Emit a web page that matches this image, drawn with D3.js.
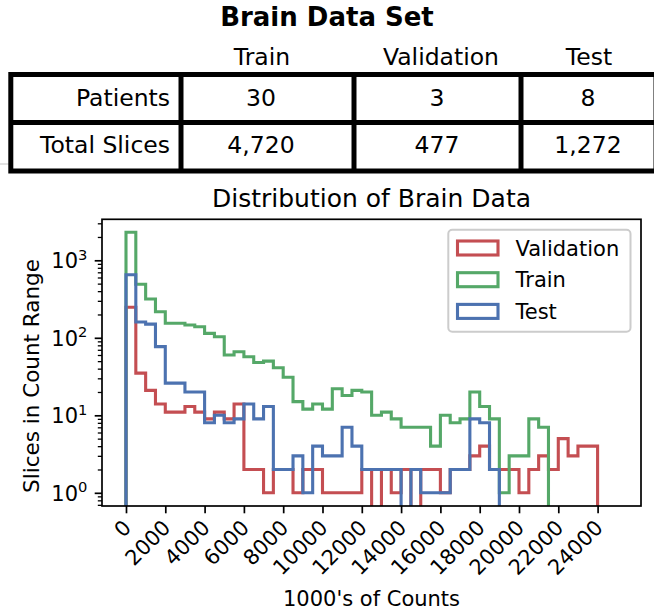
<!DOCTYPE html>
<html>
<head>
<meta charset="utf-8">
<script src="https://cdn.jsdelivr.net/npm/d3@7"></script>
<style>
  body { margin: 0; background: #fff; }
  text { font-family: "DejaVu Sans", sans-serif; fill: #000; }
</style>
</head>
<body>
<div id="chart"></div>
<script>
// Table data
var tableTitle = "Brain Data Set";
var tableCols = ["Train", "Validation", "Test"];
var tableRows = ["Patients", "Total Slices"];
var patients = [30, 3, 8];
var totalSlices = [4720, 477, 1272];

// Histogram data (bins of 500 counts starting at 0)
var binSize = 500;
var valCounts = [248, 35, 21, 14, 11, 11, 13, 11, 9, 11, 9, 14, 2, 2, 1, 2, 2, 1, 2, 2,
  1, 1, 1, 1, 2, 0, 2, 1, 2, 0, 2, 2, 1, 2, 2, 3, 4, 2, 2, 2, 1, 2, 3, 2, 5, 3, 4, 4];
var trainCounts = [2300, 490, 317, 217, 154, 154, 146, 139, 114, 103, 60, 66, 57, 48, 50, 41,
  31, 15, 12, 14, 12, 22, 18, 21, 20, 10, 11, 9, 7, 7, 7, 4, 10, 8, 9, 20, 13, 9, 1, 3, 3, 9, 7];
var testCounts = [650, 160, 150, 77, 26, 26, 20, 20, 8, 10, 8, 9, 14, 9, 13, 2, 2, 3, 1, 4,
  3, 3, 7, 4, 2, 2, 2, 2, 0, 2, 1, 1, 1, 2, 2, 9, 8, 2];
var seriesNames = ["Validation", "Train", "Test"];
var seriesColors = ["#C44E52", "#55A868", "#4C72B0"];

// Axis ticks and limits
var xTicks = [0, 2000, 4000, 6000, 8000, 10000, 12000, 14000, 16000, 18000, 20000, 22000, 24000];
var yTicks = [1, 10, 100, 1000];
var yTickExp = ["0", "1", "2", "3"];
var xLimits = [-1221, 26209];
var yLimits = [0.676, 3380];

var svgWidth = 654;
var svgHeight = 614;
var plot = {left: 102, right: 641, top: 219.3, bottom: 506};

var svg = d3.select("#chart")
  .append("svg")
  .attr("width", svgWidth)
  .attr("height", svgHeight);

// ===== Table =====
svg.append("text")
  .attr("x", 327)
  .attr("y", 26)
  .attr("text-anchor", "middle")
  .attr("font-size", "26px")
  .attr("font-weight", "bold")
  .text(tableTitle);

// thin grey separator behind the table
svg.append("line")
  .attr("x1", 0).attr("x2", svgWidth)
  .attr("y1", 164).attr("y2", 164)
  .attr("stroke", "#c4c4c4")
  .attr("stroke-width", 1);

var colLines = [10.8, 181, 354, 521, 656];
var rowLines = [74.5, 122.5, 171];
var headCenters = [262, 441, 589];
var valCenters = [261, 437, 588];
var rowBase = [106, 153.3];

svg.append("rect")
  .attr("x", colLines[0]).attr("y", rowLines[0])
  .attr("width", colLines[4] - colLines[0])
  .attr("height", rowLines[2] - rowLines[0])
  .attr("fill", "#fff")
  .attr("stroke", "#000")
  .attr("stroke-width", 5);

svg.selectAll(".vline")
  .data(colLines.slice(1, 4))
  .enter()
  .append("line")
  .attr("x1", d => d).attr("x2", d => d)
  .attr("y1", rowLines[0]).attr("y2", rowLines[2])
  .attr("stroke", "#000")
  .attr("stroke-width", 5);

svg.append("line")
  .attr("x1", colLines[0]).attr("x2", colLines[4])
  .attr("y1", rowLines[1]).attr("y2", rowLines[1])
  .attr("stroke", "#000")
  .attr("stroke-width", 5);

svg.selectAll(".colhead")
  .data(tableCols)
  .enter()
  .append("text")
  .attr("x", (d, i) => headCenters[i])
  .attr("y", 65)
  .attr("text-anchor", "middle")
  .attr("font-size", "23.5px")
  .text(d => d);

var fmt = d3.format(",");
var rowValues = [patients, totalSlices];

tableRows.forEach(function(label, r) {
  svg.append("text")
    .attr("x", 170)
    .attr("y", rowBase[r])
    .attr("text-anchor", "end")
    .attr("font-size", "23.5px")
    .text(label);

  svg.selectAll(".cell" + r)
    .data(rowValues[r])
    .enter()
    .append("text")
    .attr("x", (d, i) => valCenters[i])
    .attr("y", rowBase[r])
    .attr("text-anchor", "middle")
    .attr("font-size", "23.5px")
    .text(d => fmt(d));
});

// ===== Histogram =====
var xScale = d3.scaleLinear()
  .domain(xLimits)
  .range([plot.left, plot.right]);

var yScale = d3.scaleLog()
  .domain(yLimits)
  .range([plot.bottom, plot.top]);

svg.append("defs").append("clipPath")
  .attr("id", "plotclip")
  .append("rect")
  .attr("x", plot.left).attr("y", plot.top)
  .attr("width", plot.right - plot.left)
  .attr("height", plot.bottom - plot.top);

var floorY = plot.bottom + 20;

function stepPoints(counts) {
  var pts = [[xScale(0), floorY]];
  counts.forEach(function(c, i) {
    var yy = c > 0 ? yScale(c) : floorY;
    pts.push([xScale(i * binSize), yy]);
    pts.push([xScale((i + 1) * binSize), yy]);
  });
  pts.push([xScale(counts.length * binSize), floorY]);
  return pts;
}

var line = d3.line();
var allCounts = [valCounts, trainCounts, testCounts];

svg.append("g")
  .attr("clip-path", "url(#plotclip)")
  .selectAll("path")
  .data(allCounts)
  .enter()
  .append("path")
  .attr("d", d => line(stepPoints(d)))
  .attr("fill", "none")
  .attr("stroke", (d, i) => seriesColors[i])
  .attr("stroke-width", 3.1)
  .attr("stroke-linejoin", "miter");

// x axis
var xAxis = svg.append("g")
  .attr("transform", `translate(0, ${plot.bottom})`)
  .call(d3.axisBottom(xScale).tickValues(xTicks).tickSize(7.3).tickSizeOuter(0).tickFormat(d3.format("d")));
xAxis.select(".domain").remove();
xAxis.selectAll(".tick line").attr("stroke", "#000").attr("stroke-width", 1.7);
xAxis.selectAll(".tick text")
  .attr("x", 0).attr("y", 0).attr("dy", 0)
  .attr("transform", "translate(6, 23) rotate(-45)")
  .attr("text-anchor", "end")
  .attr("font-family", "DejaVu Sans")
  .attr("font-size", "21px")
  .attr("fill", "#000");

// y axis (major + minor ticks)
var minorTicks = [];
[0.1, 1, 10, 100, 1000].forEach(function(dec) {
  for (var m = 2; m <= 9; m++) {
    var v = m * dec;
    if (v >= yLimits[0] && v <= yLimits[1]) minorTicks.push(v);
  }
});

var yMinor = svg.append("g")
  .attr("transform", `translate(${plot.left}, 0)`)
  .call(d3.axisLeft(yScale).tickValues(minorTicks).tickSize(4.2).tickSizeOuter(0).tickFormat(""));
yMinor.select(".domain").remove();
yMinor.selectAll(".tick line").attr("stroke", "#000").attr("stroke-width", 1.3);

var yMajor = svg.append("g")
  .attr("transform", `translate(${plot.left}, 0)`)
  .call(d3.axisLeft(yScale).tickValues(yTicks).tickSize(7.3).tickSizeOuter(0).tickFormat(""));
yMajor.select(".domain").remove();
yMajor.selectAll(".tick line").attr("stroke", "#000").attr("stroke-width", 1.7);
yMajor.selectAll(".tick text").remove();

var yLab = yMajor.selectAll(".tick")
  .append("text")
  .attr("x", -14.6)
  .attr("y", 7.5)
  .attr("text-anchor", "end")
  .attr("font-family", "DejaVu Sans")
  .attr("font-size", "21px")
  .attr("fill", "#000");
yLab.append("tspan").text("10");
yLab.append("tspan")
  .attr("dy", -8.5)
  .attr("font-size", "14.7px")
  .text((d, i) => yTickExp[i]);

// frame
svg.append("rect")
  .attr("x", plot.left).attr("y", plot.top)
  .attr("width", plot.right - plot.left)
  .attr("height", plot.bottom - plot.top)
  .attr("fill", "none")
  .attr("stroke", "#000")
  .attr("stroke-width", 1.7);

// labels
svg.append("text")
  .attr("x", (plot.left + plot.right) / 2)
  .attr("y", 206.7)
  .attr("text-anchor", "middle")
  .attr("font-size", "25px")
  .text("Distribution of Brain Data");

svg.append("text")
  .attr("x", (plot.left + plot.right) / 2)
  .attr("y", 606)
  .attr("text-anchor", "middle")
  .attr("font-size", "21px")
  .text("1000's of Counts");

svg.append("text")
  .attr("transform", "translate(38.5, 376) rotate(-90)")
  .attr("text-anchor", "middle")
  .attr("font-size", "21.5px")
  .text("Slices in Count Range");

// legend
var legend = svg.append("g");
legend.append("rect")
  .attr("x", 448.3).attr("y", 229.8)
  .attr("width", 182.2).attr("height", 102)
  .attr("rx", 4)
  .attr("fill", "#fff")
  .attr("fill-opacity", 0.8)
  .attr("stroke", "#cccccc")
  .attr("stroke-width", 2);

var items = legend.selectAll(".item")
  .data(seriesNames)
  .enter()
  .append("g")
  .attr("transform", (d, i) => `translate(0, ${248 + i * 31.7})`);

items.append("rect")
  .attr("x", 457.5).attr("y", -7)
  .attr("width", 40.5).attr("height", 14)
  .attr("fill", "none")
  .attr("stroke", (d, i) => seriesColors[i])
  .attr("stroke-width", 3.1);

items.append("text")
  .attr("x", 515.5)
  .attr("y", 7.5)
  .attr("font-size", "21px")
  .text(d => d);
</script>
</body>
</html>
